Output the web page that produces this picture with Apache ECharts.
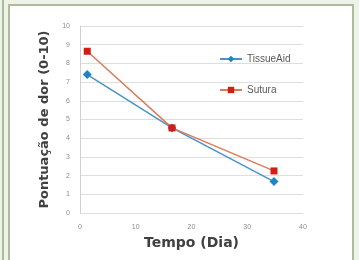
<!DOCTYPE html>
<html>
<head>
<meta charset="utf-8">
<script src="https://cdn.jsdelivr.net/npm/echarts@6/dist/echarts.min.js"></script>
<style>
  html, body { margin: 0; padding: 0; background: #eef3e7; }
  #main { width: 359px; height: 260px; }
</style>
</head>
<body>
<div id="main"></div>
<script>
// dias e pontuações
const dias = [1.3, 16.5, 34.8];
const tissueAid = [7.4, 4.55, 1.68];
const sutura = [8.65, 4.55, 2.25];
const xTicks = [0, 10, 20, 30, 40];
const yTicks = [0, 1, 2, 3, 4, 5, 6, 7, 8, 9, 10];

let myChart = echarts.init(document.getElementById('main'));
const font = 'Liberation Sans, Arial, sans-serif';
const titleFont = 'DejaVu Sans, sans-serif';

let option = {
    animation: false,
    backgroundColor: '#eef3e7',
    graphic: [
        {type: 'rect', shape: {x: 9, y: 5, width: 344, height: 260}, style: {fill: '#fff', stroke: '#aebb9f', lineWidth: 2}, z: -10},
        {type: 'line', shape: {x1: 3, y1: 0, x2: 3, y2: 260}, style: {stroke: '#aebb9f', lineWidth: 2}, z: -10}
    ],
    grid: {left: 80, right: 56, top: 26, bottom: 47},
    legend: {
        orient: 'vertical',
        left: 214,
        top: 49,
        itemGap: 21,
        itemWidth: 22,
        itemHeight: 8,
        textStyle: {fontFamily: font, fontSize: 10, color: '#595959'},
        data: ['TissueAid', 'Sutura']
    },
    xAxis: {
        type: 'value',
        min: xTicks[0],
        max: xTicks[xTicks.length - 1],
        interval: 10,
        name: 'Tempo (Dia)',
        nameLocation: 'middle',
        nameGap: 22,
        nameTextStyle: {fontFamily: titleFont, fontSize: 14, fontWeight: 'bold', color: '#404040'},
        axisLine: {show: false},
        axisTick: {show: false},
        splitLine: {show: false},
        axisLabel: {fontFamily: font, fontSize: 7, color: '#8c8c8c', margin: 11}
    },
    yAxis: {
        type: 'value',
        min: yTicks[0],
        max: yTicks[yTicks.length - 1],
        interval: 1,
        name: 'Pontuação de dor (0-10)',
        nameLocation: 'middle',
        nameGap: 18,
        nameTextStyle: {fontFamily: titleFont, fontSize: 13, fontWeight: 'bold', color: '#404040'},
        axisLine: {show: true, lineStyle: {color: '#d0d0d0'}},
        axisTick: {show: false},
        splitLine: {lineStyle: {color: '#dedede'}},
        axisLabel: {fontFamily: font, fontSize: 7, color: '#8c8c8c', margin: 10}
    },
    series: [
        {
            name: 'TissueAid',
            type: 'line',
            data: dias.map((d, i) => [d, tissueAid[i]]),
            symbol: 'diamond',
            symbolSize: 9,
            lineStyle: {color: '#4a93c8', width: 1.5},
            itemStyle: {color: '#1f84c6'}
        },
        {
            name: 'Sutura',
            type: 'line',
            data: dias.map((d, i) => [d, sutura[i]]),
            symbol: 'rect',
            symbolSize: 7,
            lineStyle: {color: '#dc7a5c', width: 1.5},
            itemStyle: {color: '#d21c14'}
        }
    ]
};
myChart.setOption(option);
</script>
</body>
</html>
